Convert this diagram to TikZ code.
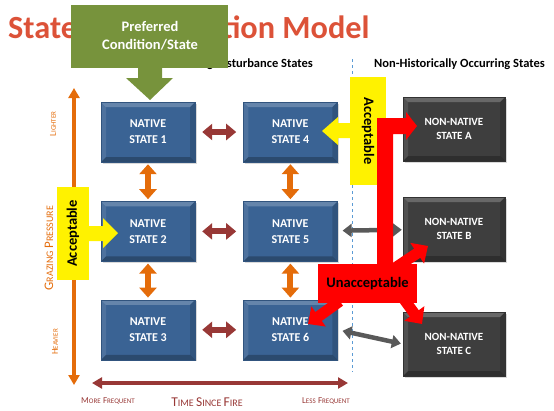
\documentclass[tikz,border=0pt]{standalone}
\usepackage{fontspec}
\setmainfont{Carlito}
\usepackage{tikz}
\usetikzlibrary{arrows.meta,positioning,shadows}

\definecolor{nativeblue}{RGB}{58,99,148}
\definecolor{darkgrey}{RGB}{62,62,62}
\definecolor{olive}{RGB}{119,147,60}
\definecolor{pumpkin}{RGB}{228,108,10}
\definecolor{brick}{RGB}{152,56,54}
\definecolor{titlered}{RGB}{220,82,56}
\definecolor{dashblue}{RGB}{91,155,213}
\definecolor{linkgrey}{RGB}{89,89,89}

\newcommand{\capword}[4]{{\fontsize{#1}{#1}\selectfont #3}{\fontsize{#2}{#2}\selectfont #4}}

\tikzset{
    bevel/.style={path picture={
        \fill[white, opacity=.22] (path picture bounding box.north west) -- (path picture bounding box.north east)
            -- ([shift={(-5pt,-5pt)}]path picture bounding box.north east) -- ([shift={(5pt,-5pt)}]path picture bounding box.north west) -- cycle;
        \fill[white, opacity=.10] (path picture bounding box.north west) -- (path picture bounding box.south west)
            -- ([shift={(5pt,5pt)}]path picture bounding box.south west) -- ([shift={(5pt,-5pt)}]path picture bounding box.north west) -- cycle;
        \fill[black, opacity=.25] (path picture bounding box.south west) -- (path picture bounding box.south east)
            -- ([shift={(-5pt,5pt)}]path picture bounding box.south east) -- ([shift={(5pt,5pt)}]path picture bounding box.south west) -- cycle;
        \fill[black, opacity=.15] (path picture bounding box.north east) -- (path picture bounding box.south east)
            -- ([shift={(-5pt,5pt)}]path picture bounding box.south east) -- ([shift={(-5pt,-5pt)}]path picture bounding box.north east) -- cycle;
    }}
}

\begin{document}
\begin{tikzpicture}[
    x=1pt, y=-1pt,
    native/.style={rectangle, fill=nativeblue, draw=nativeblue!85!black, minimum width=94pt, minimum height=60pt, inner sep=0pt, align=center, text=white, font=\fontsize{12}{16}\selectfont\bfseries, bevel, drop shadow={opacity=.3, shadow xshift=1.5pt, shadow yshift=-1.5pt}},
    nonnative/.style={native, fill=darkgrey, draw=darkgrey!80!black, minimum width=102pt, minimum height=64pt, font=\fontsize{11}{13.5}\selectfont\bfseries},
    vlink/.style={draw=pumpkin, line width=6pt, {Triangle[length=10pt,width=17pt]}-{Triangle[length=10pt,width=17pt]}, shorten <=2pt, shorten >=2pt},
    hlink/.style={draw=brick, line width=6pt, {Triangle[length=10pt,width=16pt]}-{Triangle[length=10pt,width=16pt]}, shorten <=7pt, shorten >=7pt},
    glink/.style={draw=linkgrey, line width=4.5pt, {Triangle[length=9pt,width=13pt]}-{Triangle[length=9pt,width=13pt]}},
    axis/.style={line width=3.5pt, {Triangle[length=10pt,width=11pt]}-{Triangle[length=10pt,width=11pt]}},
    redarrow/.style={draw=red, line width=11pt, -{Triangle[length=13pt,width=24pt]}},
    acceptbox/.style={rectangle, fill=yellow, inner sep=0pt, font=\fontsize{14.5}{14.5}\selectfont\bfseries},
    heading/.style={inner sep=0pt, font=\fontsize{12.5}{12.5}\selectfont\bfseries}
]
    \useasboundingbox (0,0) rectangle (554,410);

    \node[anchor=base west, inner sep=0pt, text=titlered, font=\fontsize{32.3}{32.3}\selectfont\bfseries] (title) at (8,38) {State and Transition Model};
    \node[heading, anchor=east] (histhead) at (313,64) {Historically Occurring Disturbance States};
    \node[heading, anchor=west] (nonhisthead) at (374,64) {Non-Historically Occurring States};

    \coordinate (dashtop) at (352,59);
    \coordinate (dashbot) at (352,372);
    \draw[dashblue, thick, dashed] (dashtop) -- (dashbot);

    \coordinate (lighter) at (74,88);
    \coordinate (heavier) at (74,385);
    \coordinate (morefreq) at (92,383);
    \coordinate (lessfreq) at (348,383);
    \draw[axis, pumpkin] (lighter) -- (heavier);
    \draw[axis, brick] (morefreq) -- (lessfreq);

    \node[rotate=90, text=pumpkin] (lighterlbl) at (53,124) {\capword{9}{7}{L}{IGHTER}};
    \node[rotate=90, text=pumpkin] (grazinglbl) at (49,248) {\capword{13}{10}{G}{RAZING} \capword{13}{10}{P}{RESSURE}};
    \node[rotate=90, text=pumpkin] (heavierlbl) at (55,342) {\capword{9}{7}{H}{EAVIER}};
    \node[text=brick] (morelbl) at (108,401) {\capword{9}{7}{M}{ORE} \capword{9}{7}{F}{REQUENT}};
    \node[text=brick] (firelbl) at (207,402) {\capword{13.5}{10}{T}{IME} \capword{13.5}{10}{S}{INCE} \capword{13.5}{10}{F}{IRE}};
    \node[text=brick] (lesslbl) at (326,401) {\capword{9}{7}{L}{ESS} \capword{9}{7}{F}{REQUENT}};

    \node[native] (n1) at (148,132) {NATIVE\\STATE 1};
    \node[native, below=39pt of n1] (n2) {NATIVE\\STATE 2};
    \node[native, below=38pt of n2] (n3) {NATIVE\\STATE 3};
    \node[native, right=48pt of n1] (n4) {NATIVE\\STATE 4};
    \node[native, right=48pt of n2] (n5) {NATIVE\\STATE 5};
    \node[native, right=48pt of n3] (n6) {NATIVE\\STATE 6};
    \node[nonnative] (na) at (454,129) {NON-NATIVE\\STATE A};
    \node[nonnative] (nb) at (454,229) {NON-NATIVE\\STATE B};
    \node[nonnative] (nc) at (454,344) {NON-NATIVE\\STATE C};

    \draw[vlink] (n1) -- (n2);
    \draw[vlink] (n2) -- (n3);
    \draw[vlink] (n4) -- (n5);
    \draw[vlink] (n5) -- (n6);
    \draw[hlink] (n1) -- (n4);
    \draw[hlink] (n2) -- (n5);
    \draw[hlink] (n3) -- (n6);
    \draw[glink, shorten <=5pt, shorten >=1pt] (n5) -- (nb);
    \draw[glink, shorten <=5pt, shorten >=2pt] (n6.east) -- (nc.west);

    \node[acceptbox, rotate=90, minimum width=93pt, minimum height=32pt] (accleft) at (73,233.5) {Acceptable};
    \fill[yellow] (89,226) -- (103,226) -- (103,218) -- (118,233) -- (103,248) -- (103,241) -- (89,241) -- cycle;
    \node[acceptbox, rotate=-90, minimum width=108pt, minimum height=36pt] (accright) at (368,131) {Acceptable};
    \fill[yellow] (350,123) -- (338,123) -- (338,117) -- (322,131) -- (338,145) -- (338,138) -- (350,138) -- cycle;

    \fill[red] (377,265) -- (377,118) -- (406,118) -- (406,112) -- (417,126) -- (406,140) -- (406,134) -- (393,134) -- (393,265) -- cycle;
    \node[rectangle, fill=red, minimum width=99pt, minimum height=39pt, inner sep=0pt, font=\fontsize{14.5}{14.5}\selectfont\bfseries] (unacc) at (367.5,283.5) {Unacceptable};
    \coordinate (hitsix) at (308,324);
    \coordinate (hitb) at (428,246);
    \coordinate (hitc) at (422,324);
    \draw[redarrow] ([shift={(22pt,2pt)}]unacc.south west) -- (hitsix);
    \draw[redarrow] ([shift={(-22pt,-4pt)}]unacc.north east) -- (hitb);
    \draw[redarrow] ([shift={(-14pt,5pt)}]unacc.south east) -- (hitc);

    \fill[olive] (71,5) rectangle (228,68);
    \fill[olive] (138,67) -- (162,67) -- (162,78) -- (173,78) -- (150,100) -- (126,78) -- (138,78) -- cycle;
    \node[align=center, text=white, font=\fontsize{14.5}{18}\selectfont\bfseries] (preferred) at (150,36) {Preferred\\Condition/State};
\end{tikzpicture}
\end{document}
